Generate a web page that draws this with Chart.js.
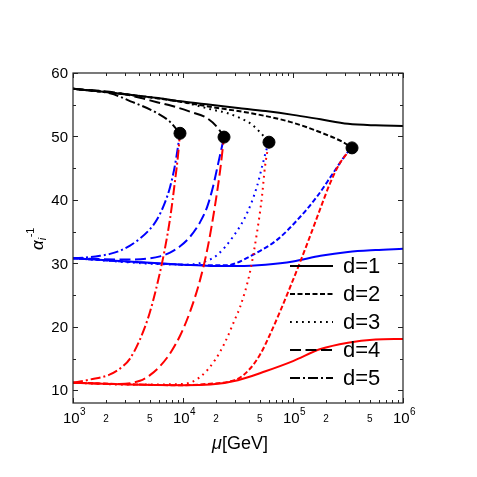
<!DOCTYPE html>
<html>
<head>
<meta charset="utf-8">
<script src="https://cdn.jsdelivr.net/npm/chart.js@4.4.0/dist/chart.umd.min.js"></script>
<style>
  html, body { margin: 0; padding: 0; background: #fff; }
  canvas { display: block; }
</style>
</head>
<body>
<canvas id="alphaChart" width="477" height="477"></canvas>
<script>
// Running of inverse couplings alpha_i^-1 with mu, for d = 1..5

// axis ticks
const xMajorTicks = [1e3, 1e4, 1e5, 1e6];
const xMinorLabels = [2, 5];
const yMajorTicks = [10, 20, 30, 40, 50, 60];
const legendLabels = ['d=1', 'd=2', 'd=3', 'd=4', 'd=5'];

// alpha_1^-1 (black)
const muA1d1 = [1e3, 1.78e3, 3.16e3, 5.62e3, 1e4, 1.78e4, 3.16e4, 5.62e4, 1e5, 1.78e5, 3.16e5, 5.62e5, 1e6];
const a1d1 = [57.5, 57.1, 56.6, 56.1, 55.5, 55.0, 54.5, 54.0, 53.4, 52.7, 52.0, 51.75, 51.65];
const muA1d2 = [1e3, 3.16e3, 1e4, 1.87e4, 4.06e4, 9.39e4, 1.87e5, 2.85e5, 3.44e5];
const a1d2 = [57.5, 56.6, 55.4, 54.6, 53.7, 52.3, 50.5, 49.1, 48.2];
const muA1d3 = [1e3, 3.16e3, 1e4, 1.87e4, 2.51e4, 3.3e4, 4.06e4, 5.0e4, 6.05e4];
const a1d3 = [57.5, 56.6, 55.4, 54.2, 53.7, 52.9, 52.1, 50.7, 49.1];
const muA1d4 = [1e3, 2.5e3, 4.06e3, 5.8e3, 8e3, 1.16e4, 1.65e4, 2.04e4, 2.36e4];
const a1d4 = [57.5, 56.9, 56.1, 55.4, 54.8, 53.9, 52.9, 51.5, 49.9];
const muA1d5 = [1e3, 2.17e3, 3.5e3, 5.8e3, 7.62e3, 9.39e3];
const a1d5 = [57.5, 56.8, 55.4, 53.7, 52.3, 50.5];

// alpha_2^-1 (blue)
const muA2d1 = [1e3, 3.16e3, 1e4, 1.78e4, 3.16e4, 5.62e4, 1e5, 1.78e5, 3.16e5, 5.62e5, 1e6];
const a2d1 = [30.8, 30.3, 29.8, 29.6, 29.6, 29.8, 30.3, 31.2, 31.8, 32.1, 32.3];
const muA2d2 = [1e3, 1e4, 2.5e4, 3.0e4, 4.06e4, 7.16e4, 1.09e5, 1.65e5, 2.31e5, 3.1e5, 3.44e5];
const a2d2 = [30.8, 29.8, 29.7, 30.0, 31.1, 33.7, 36.8, 40.5, 44.2, 47.4, 48.2];
const muA2d3 = [1e3, 1e4, 1.3e4, 1.65e4, 2.04e4, 2.85e4, 3.82e4, 4.7e4, 5.33e4, 5.8e4, 6.05e4];
const a2d3 = [30.8, 29.8, 29.9, 30.4, 31.3, 34.2, 37.9, 42.1, 45.8, 48.2, 49.1];
const muA2d4 = [1e3, 3.16e3, 5.01e3, 6.18e3, 7.62e3, 9.4e3, 1.16e4, 1.43e4, 1.65e4, 1.87e4, 2.08e4, 2.36e4];
const a2d4 = [30.8, 30.6, 30.8, 31.1, 31.7, 32.7, 34.2, 36.5, 38.8, 42.0, 45.6, 49.9];
const muA2d5 = [1e3, 1.43e3, 1.76e3, 2.17e3, 2.67e3, 3.3e3, 4.06e3, 5.01e3, 5.8e3, 6.86e3, 7.62e3, 8.46e3, 9.39e3];
const a2d5 = [30.8, 31.0, 31.2, 31.5, 32.0, 32.8, 33.9, 35.4, 36.9, 39.6, 42.0, 45.5, 50.5];

// alpha_3^-1 (red)
const muA3d1 = [1e3, 3.16e3, 1e4, 1.78e4, 3.16e4, 5.62e4, 1e5, 1.78e5, 3.16e5, 5.62e5, 1e6];
const a3d1 = [11.2, 10.9, 10.8, 10.9, 11.6, 13.0, 14.6, 16.5, 17.5, 18.0, 18.1];
const muA3d2 = [1e3, 1e4, 1.65e4, 2.67e4, 3.3e4, 4.06e4, 5.01e4, 6.18e4, 7.62e4, 9.39e4, 1.16e5, 1.43e5, 1.76e5, 2.17e5, 2.67e5, 3.44e5];
const a3d2 = [11.2, 10.8, 11.0, 11.4, 12.0, 13.4, 15.6, 18.8, 22.4, 26.2, 30.2, 34.3, 38.5, 42.6, 45.8, 48.2];
const muA3d3 = [1e3, 3.16e3, 1e4, 1.43e4, 1.96e4, 2.4e4, 3.0e4, 3.3e4, 4.06e4, 4.7e4, 5.22e4, 5.56e4, 6.05e4];
const a3d3 = [11.2, 10.9, 11.0, 12.1, 14.8, 17.5, 21.4, 23.1, 28.6, 34.8, 40.5, 45.2, 49.1];
const muA3d4 = [1e3, 2.5e3, 4.06e3, 5.01e3, 6.18e3, 7.62e3, 9.4e3, 1.16e4, 1.43e4, 1.69e4, 1.95e4, 2.17e4, 2.36e4];
const a3d4 = [11.2, 11.0, 11.5, 12.4, 13.8, 15.8, 18.6, 22.4, 27.4, 32.8, 39.0, 44.5, 49.9];
const muA3d5 = [1e3, 1.43e3, 2.17e3, 2.85e3, 3.3e3, 4.06e3, 5.0e3, 6.18e3, 6.86e3, 7.62e3, 8.46e3, 9.01e3, 9.39e3];
const a3d5 = [11.2, 11.7, 12.5, 13.8, 15.0, 18.0, 22.3, 28.6, 32.4, 37.0, 43.0, 47.0, 50.5];

// unification points
const muDots = [9.39e3, 2.36e4, 6.05e4, 3.44e5];
const aDots = [50.5, 49.9, 49.1, 48.2];

const FONT = '"Liberation Sans", Arial, Helvetica, sans-serif';
const dashes = [[], [5, 2.5], [1.8, 4.2], [11, 4.5], [10, 3, 2, 3]];

function pts(mu, a) {
    return mu.map((m, i) => ({ x: m, y: a[i] }));
}

function curve(mu, a, color, d, order) {
    return {
        data: pts(mu, a),
        showLine: true,
        borderColor: color,
        borderWidth: 2,
        borderDash: dashes[d - 1],
        pointRadius: 0,
        fill: false,
        cubicInterpolationMode: 'monotone',
        order: order
    };
}

const datasets = [
    { data: pts(muDots, aDots), backgroundColor: '#000', borderColor: '#000', pointRadius: 6, showLine: false, order: 0 },
    curve(muA3d1, a3d1, '#ff0000', 1, 1),
    curve(muA3d2, a3d2, '#ff0000', 2, 1),
    curve(muA3d3, a3d3, '#ff0000', 3, 1),
    curve(muA3d4, a3d4, '#ff0000', 4, 1),
    curve(muA3d5, a3d5, '#ff0000', 5, 1),
    curve(muA2d1, a2d1, '#0000ff', 1, 2),
    curve(muA2d2, a2d2, '#0000ff', 2, 2),
    curve(muA2d3, a2d3, '#0000ff', 3, 2),
    curve(muA2d4, a2d4, '#0000ff', 4, 2),
    curve(muA2d5, a2d5, '#0000ff', 5, 2),
    curve(muA1d1, a1d1, '#000000', 1, 3),
    curve(muA1d2, a1d2, '#000000', 2, 3),
    curve(muA1d3, a1d3, '#000000', 3, 3),
    curve(muA1d4, a1d4, '#000000', 4, 3),
    curve(muA1d5, a1d5, '#000000', 5, 3)
];

// frame, inward ticks, labels, titles and legend
const framePlugin = {
    id: 'frame',
    afterDraw(chart) {
        const { ctx, chartArea: a, scales: { x, y } } = chart;
        ctx.save();
        ctx.strokeStyle = '#222';
        ctx.lineWidth = 1.2;
        ctx.setLineDash([]);
        ctx.strokeRect(a.left, a.top, a.right - a.left, a.bottom - a.top);

        // x ticks (decades + minors)
        ctx.lineWidth = 1;
        for (let k = 0; k < xMajorTicks.length; k++) {
            const dec = xMajorTicks[k];
            for (let m = 1; m <= 9; m++) {
                if (k === xMajorTicks.length - 1 && m > 1) break;
                const px = Math.round(x.getPixelForValue(dec * m)) + 0.5;
                const len = m === 1 ? 5 : 3;
                ctx.beginPath();
                ctx.moveTo(px, a.bottom); ctx.lineTo(px, a.bottom - len);
                ctx.moveTo(px, a.top); ctx.lineTo(px, a.top + len);
                ctx.stroke();
            }
        }
        // y ticks
        for (let v = yMajorTicks[0]; v <= yMajorTicks[yMajorTicks.length - 1]; v += 5) {
            const py = Math.round(y.getPixelForValue(v)) + 0.5;
            const len = v % 10 === 0 ? 5 : 3;
            ctx.beginPath();
            ctx.moveTo(a.left, py); ctx.lineTo(a.left + len, py);
            ctx.moveTo(a.right, py); ctx.lineTo(a.right - len, py);
            ctx.stroke();
        }

        ctx.fillStyle = '#000';
        // y labels
        ctx.font = '15px ' + FONT;
        ctx.textAlign = 'right';
        ctx.textBaseline = 'middle';
        yMajorTicks.forEach(v => {
            ctx.fillText(String(v), a.left - 5, y.getPixelForValue(v) + 1);
        });

        // x labels: 10^n and small 2, 5
        ctx.textBaseline = 'alphabetic';
        xMajorTicks.forEach((v, k) => {
            const px = x.getPixelForValue(v);
            const exp = String(Math.round(Math.log10(v)));
            ctx.font = '15px ' + FONT;
            const w1 = ctx.measureText('10').width;
            ctx.font = '10px ' + FONT;
            const w2 = ctx.measureText(exp).width;
            const x0 = px - (w1 + w2) / 2 + 1;
            ctx.textAlign = 'left';
            ctx.font = '15px ' + FONT;
            ctx.fillText('10', x0, a.bottom + 20);
            ctx.font = '10px ' + FONT;
            ctx.fillText(exp, x0 + w1 + 0.5, a.bottom + 12);
            if (k < xMajorTicks.length - 1) {
                ctx.textAlign = 'center';
                xMinorLabels.forEach(m => {
                    ctx.fillText(String(m), x.getPixelForValue(v * m), a.bottom + 19);
                });
            }
        });

        // x title: mu[GeV]
        ctx.textAlign = 'left';
        ctx.font = 'italic 18px ' + FONT;
        const wMu = ctx.measureText('\u03bc').width;
        ctx.font = '18px ' + FONT;
        const wGev = ctx.measureText('[GeV]').width;
        const tx = (a.left + a.right) / 2 - (wMu + wGev) / 2 + 2;
        ctx.font = 'italic 18px ' + FONT;
        ctx.fillText('\u03bc', tx, 449);
        ctx.font = '18px ' + FONT;
        ctx.fillText('[GeV]', tx + wMu, 449);

        // y title: alpha_i^-1 (rotated)
        ctx.save();
        ctx.translate(43, 250);
        ctx.rotate(-Math.PI / 2);
        ctx.font = 'italic 17px ' + FONT;
        ctx.fillText('\u03b1', 0, 0);
        const wA = ctx.measureText('\u03b1').width;
        ctx.font = 'italic 11px ' + FONT;
        ctx.fillText('i', wA, 3);
        ctx.font = '11px ' + FONT;
        ctx.fillText('-1', wA + 3, -9);
        ctx.restore();

        // legend
        ctx.lineWidth = 2;
        ctx.strokeStyle = '#000';
        ctx.font = '22px ' + FONT;
        ctx.textBaseline = 'middle';
        legendLabels.forEach((lab, i) => {
            const ly = 266 + i * 28;
            ctx.setLineDash(dashes[i]);
            ctx.beginPath();
            ctx.moveTo(290, ly); ctx.lineTo(333, ly);
            ctx.stroke();
            ctx.fillText(lab, 343, ly + 1);
        });
        ctx.restore();
    }
};

new Chart(document.getElementById('alphaChart'), {
    type: 'scatter',
    data: { datasets: datasets },
    options: {
        responsive: false,
        animation: false,
        devicePixelRatio: 1,
        layout: { padding: { left: 73, top: 73, right: 74, bottom: 74 } },
        plugins: { legend: { display: false }, tooltip: { enabled: false } },
        scales: {
            x: { type: 'logarithmic', min: 1e3, max: 1e6, display: false },
            y: { type: 'linear', min: 8, max: 60, display: false }
        }
    },
    plugins: [framePlugin]
});
</script>
</body>
</html>
